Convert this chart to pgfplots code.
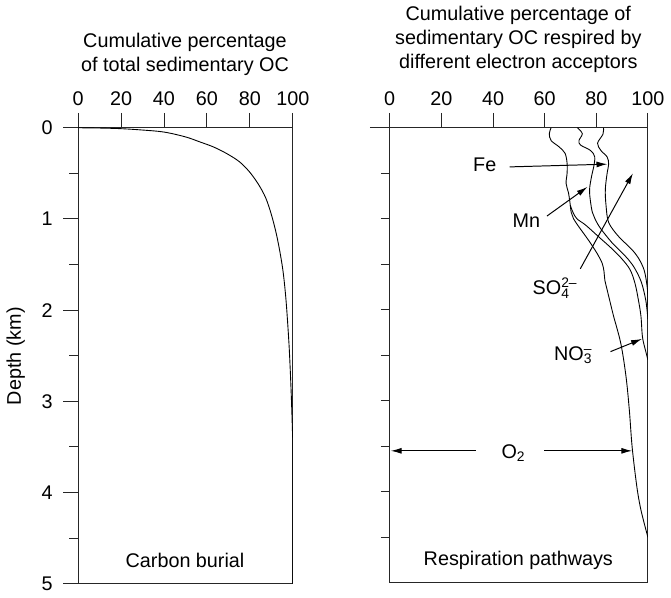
\documentclass[border=0pt]{standalone}
\usepackage{fontspec}
\setmainfont{Liberation Sans}
\usepackage{pgfplots}
\pgfplotsset{compat=1.18}
\usetikzlibrary{arrows.meta}

\pgfplotsset{
  panel/.style={
    scale only axis,
    xmin=0, xmax=100, ymin=0, ymax=5,
    y dir=reverse,
    axis line style={black!85, line width=1.1pt},
    tick style={black!85, line width=1pt},
    tick align=outside,
    major tick length=15pt,
    minor tick length=9pt,
    xtick={0,20,...,100},
    xtick pos=right, xticklabel pos=right,
    ytick pos=left,
    ticklabel style={font=\fontsize{20}{24}\selectfont},
    /pgf/number format/assume math mode=true,
    clip=true,
  },
  curve/.style={black, line width=0.9pt, smooth, tension=0.55, no marks},
}
\tikzset{arr/.style={line width=1pt, -{Latex[length=11pt,width=6pt]}}}

\begin{document}
\fontsize{20}{24}\selectfont
\begin{tikzpicture}[x=1pt,y=1pt]

% ---- left panel: carbon burial
\begin{axis}[panel, name=left,
  at={(0,0)}, anchor=north west,
  width=217pt, height=461pt,
  ytick={0,1,...,5}, minor ytick={0.5,1.5,...,4.5},
  yticklabel style={xshift=-4pt},
]
\addplot[curve] table {
x y
0 0
10 0.003
20 0.01
30 0.025
40 0.047
50 0.1
56.7 0.155
63 0.21
69 0.28
75 0.37
79.7 0.48
84 0.62
87.4 0.77
90 0.95
92.4 1.17
94.3 1.4
95.6 1.6
96.7 1.85
97.5 2.1
98.3 2.4
98.9 2.7
99.4 3.0
99.8 3.3
100 3.55
100 5
};
\node at (axis cs:49.8,4.74) {Carbon burial};
\end{axis}

% ---- right panel: respiration pathways
\begin{axis}[panel, name=right,
  at={(315pt,0)}, anchor=north west,
  width=261pt, height=460pt,
  ytick={0.5,1,...,4.5}, yticklabels={},
  major y tick style={/pgfplots/major tick length=9pt},
  extra y ticks={0}, extra y tick labels={},
  extra y tick style={major y tick style={/pgfplots/major tick length=20pt}},
]
% O2 / NO3 boundary
\addplot[curve] table {
x y
62.5 0
61.8 0.065
62.5 0.14
65.6 0.21
67.9 0.28
68.7 0.39
68.7 0.50
68.3 0.61
69.2 0.71
69.8 0.82
70.3 0.93
71.2 1.0
73.3 1.09
77.1 1.24
80.3 1.38
82.3 1.49
83.0 1.58
83.3 1.67
84.2 1.78
85.4 1.92
86.7 2.07
89.5 2.37
91.5 2.73
92.8 3.1
93.9 3.51
95.7 3.94
97.3 4.2
100 4.5
};
% NO3 / Mn boundary
\addplot[curve] table {
x y
69.9 0.85
71.0 0.93
72.5 1.0
75.9 1.07
81.0 1.2
86.1 1.33
89.9 1.44
93.1 1.56
95.0 1.71
96.3 1.89
97.3 2.07
97.9 2.3
99.1 2.45
100 2.55
};
% Mn / Fe boundary
\addplot[curve] table {
x y
72.7 0
74.6 0.065
73.3 0.14
73.9 0.19
77.8 0.25
79.4 0.32
79.0 0.43
78.2 0.53
77.4 0.68
77.8 0.82
78.5 0.93
79.5 1.0
81.5 1.1
86.0 1.26
89.5 1.36
92.5 1.45
95.0 1.55
97.5 1.7
99.2 1.9
100 2.1
};
% Fe / SO4 boundary
\addplot[curve] table {
x y
82.8 0
82.6 0.07
80.5 0.17
81.8 0.25
84.2 0.32
84.8 0.4
84.2 0.5
83.5 0.68
83.8 0.86
84.8 1.04
88.5 1.19
93.5 1.33
96.3 1.43
98.6 1.57
99.8 1.77
100 1.95
};
\node at (axis cs:36.8,0.41) {Fe};
\draw[arr] (axis cs:46.4,0.43) -- (axis cs:84.3,0.40);
\node at (axis cs:52.9,1.02) {Mn};
\draw[arr] (axis cs:60.9,0.97) -- (axis cs:76.6,0.65);
\node at (axis cs:62.5,1.76) {SO\rlap{\textsuperscript{2–}}\textsubscript{4}};
\draw[arr] (axis cs:73.8,1.55) -- (axis cs:94.2,0.50);
\node at (axis cs:71,2.5) {NO\rlap{\textsuperscript{–}}\textsubscript{3}};
\draw[arr] (axis cs:85.5,2.46) -- (axis cs:97.7,2.32);
\node at (axis cs:47.9,3.57) {O\textsubscript{2}};
\draw[arr] (axis cs:33.3,3.55) -- (axis cs:0.4,3.55);
\draw[arr] (axis cs:59.8,3.55) -- (axis cs:93.9,3.55);
\node at (axis cs:49.8,4.75) {Respiration pathways};
\end{axis}

% titles and depth label (1pt = 1px of the reference, origin at left panel corner)
\node[anchor=base] at (108,81) {Cumulative percentage};
\node[anchor=base] at (108,57) {of total sedimentary OC};
\node[anchor=base] at (445,108) {Cumulative percentage of};
\node[anchor=base] at (445,84) {sedimentary OC respired by};
\node[anchor=base] at (445,60) {different electron acceptors};
\node[rotate=90] at (-63,-231) {Depth (km)};
\end{tikzpicture}
\end{document}
